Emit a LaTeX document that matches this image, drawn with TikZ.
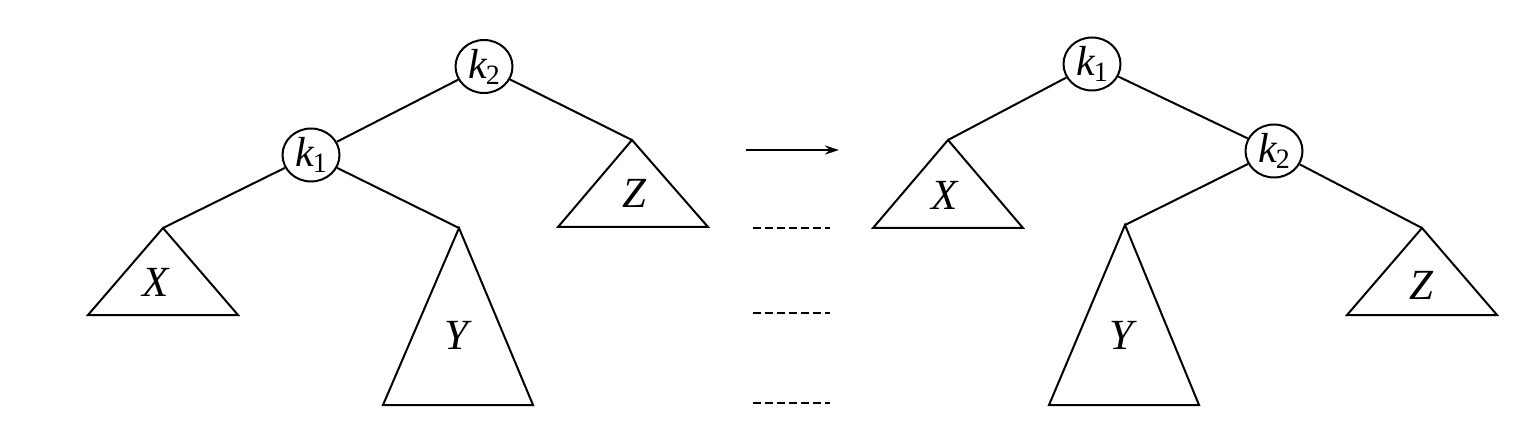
\documentclass[tikz,border=0pt]{standalone}
\usepackage{fontspec}
\setmainfont{Liberation Serif}
\newfontfamily\tms{Liberation Serif}
\usetikzlibrary{arrows.meta,shapes.geometric}
\newcommand{\kk}[1]{{\tms\itshape k}\kern-1pt\raisebox{-6pt}{\tms\fontsize{28}{30}\selectfont #1}}
\begin{document}
\begin{tikzpicture}[x=1pt,y=-1pt,line width=2pt,
  knode/.style={draw,ellipse,minimum width=57pt,minimum height=53pt,inner sep=0pt,fill=white,font=\tms\fontsize{42}{44}\selectfont},
  lbl/.style={font=\tms\fontsize{43}{45}\selectfont\itshape},
  tri/.style={line join=miter}]
\useasboundingbox (0,0) rectangle (1538,430);
% ---- left tree ----
\node[knode] (Lk2) at (484,66.5) {\kk{2}};
\node[knode] (Lk1) at (311,155) {\kk{1}};
\coordinate (LXa) at (163,228); \coordinate (LXl) at (88,315); \coordinate (LXr) at (238,315);
\coordinate (LYa) at (459,228); \coordinate (LYl) at (383,405); \coordinate (LYr) at (533,405);
\coordinate (LZa) at (632,140); \coordinate (LZl) at (558,227); \coordinate (LZr) at (708,227);
\draw[tri] (LXa) -- (LXl) -- (LXr) -- cycle;
\draw[tri] (LYa) -- (LYl) -- (LYr) -- cycle;
\draw[tri] (LZa) -- (LZl) -- (LZr) -- cycle;
\draw (Lk2) -- (Lk1);
\draw (Lk2) -- (LZa);
\draw (Lk1) -- (LXa);
\draw (Lk1) -- (LYa);
\node[lbl] (LX) at (156,282) {X};
\node[lbl] (LY) at (456,335) {Y};
\node[lbl] (LZ) at (634,193) {Z};
% ---- middle ----
\coordinate (A1) at (746,150); \coordinate (A2) at (839,150);
\draw[line width=1.8pt,-{Stealth[length=14pt,width=9pt]}] (A1) -- (A2);
\coordinate (D1a) at (753,228); \coordinate (D1b) at (830,228);
\coordinate (D2a) at (753,313); \coordinate (D2b) at (830,313);
\coordinate (D3a) at (753,403); \coordinate (D3b) at (830,403);
\draw[dash pattern=on 8pt off 4pt,line width=1.8pt] (D1a) -- (D1b);
\draw[dash pattern=on 8pt off 4pt,line width=1.8pt] (D2a) -- (D2b);
\draw[dash pattern=on 8pt off 4pt,line width=1.8pt] (D3a) -- (D3b);
% ---- right tree ----
\node[knode] (Rk1) at (1092,64) {\kk{1}};
\node[knode] (Rk2) at (1274,151) {\kk{2}};
\coordinate (RXa) at (948,140); \coordinate (RXl) at (873,228); \coordinate (RXr) at (1023,228);
\coordinate (RYa) at (1125,225); \coordinate (RYl) at (1049,405); \coordinate (RYr) at (1199,405);
\coordinate (RZa) at (1422,228); \coordinate (RZl) at (1347,315); \coordinate (RZr) at (1497,315);
\draw[tri] (RXa) -- (RXl) -- (RXr) -- cycle;
\draw[tri] (RYa) -- (RYl) -- (RYr) -- cycle;
\draw[tri] (RZa) -- (RZl) -- (RZr) -- cycle;
\draw (Rk1) -- (RXa);
\draw (Rk1) -- (Rk2);
\draw (Rk2) -- (RYa);
\draw (Rk2) -- (RZa);
\node[lbl] (RX) at (945,195) {X};
\node[lbl] (RY) at (1121,335) {Y};
\node[lbl] (RZ) at (1421,285) {Z};
\end{tikzpicture}
\end{document}
